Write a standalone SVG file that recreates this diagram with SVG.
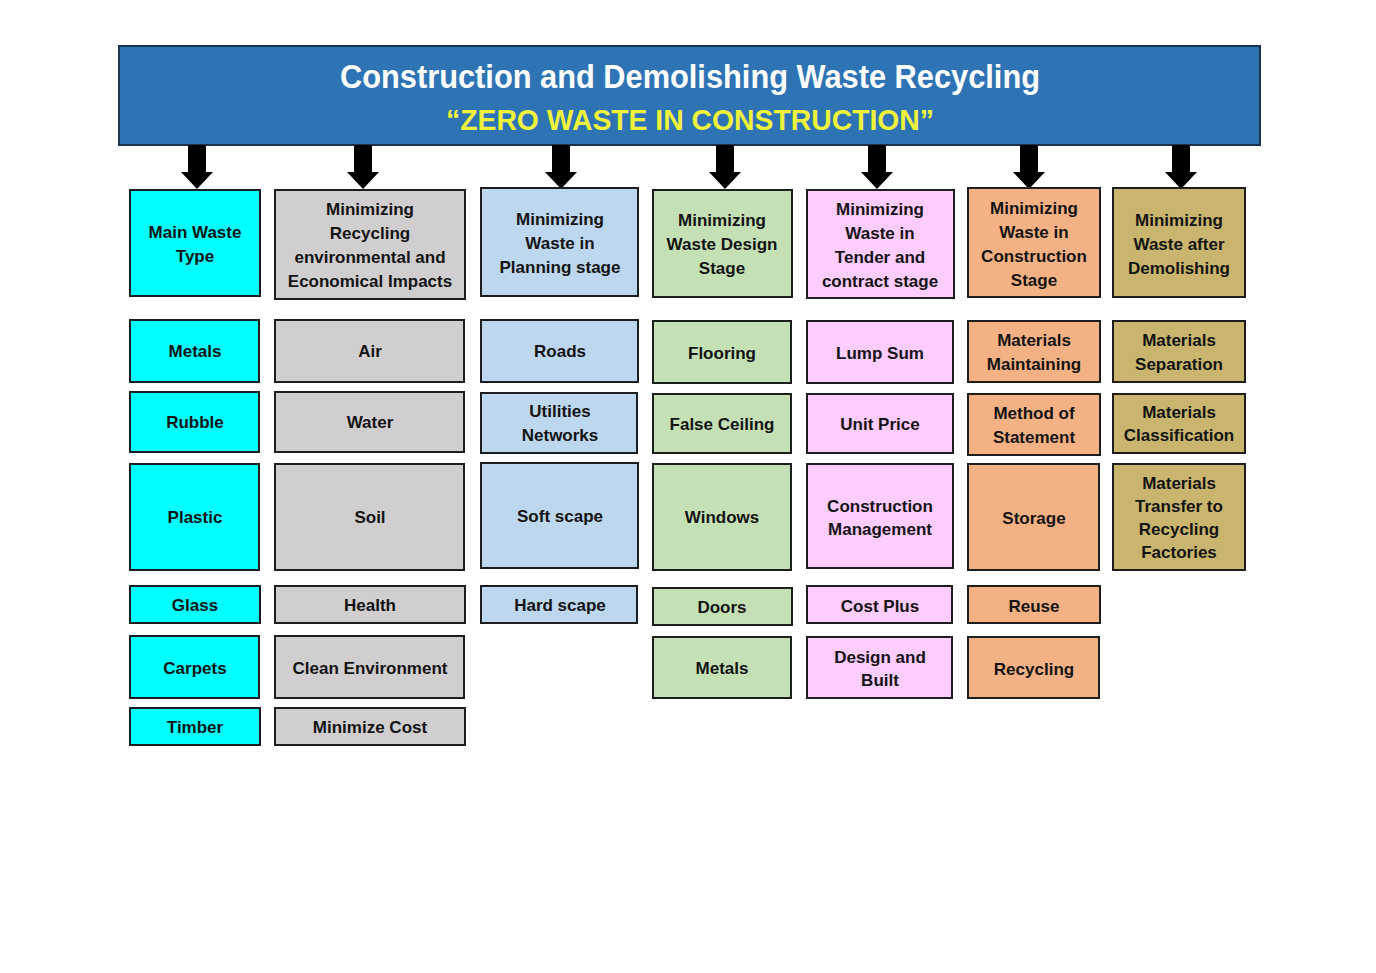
<svg xmlns="http://www.w3.org/2000/svg" width="1376" height="973" viewBox="0 0 1376 973">
<style>
.b{stroke:#1e1e1e;stroke-width:2}
.cy{fill:#00FFFF}.gr{fill:#D0CECE}.lb{fill:#BDD7EE}.gn{fill:#C5E0B4}.pk{fill:#FFCCFF}.or{fill:#F4B183}.kh{fill:#C9B56E}
text{font-family:"Liberation Sans",Arial,sans-serif;font-weight:bold;font-size:17px;fill:#141414;text-anchor:middle}
.t1{font-size:33px;fill:#ffffff}
.t2{font-size:30px;fill:#EEF23A}
.ar{fill:#000}
</style>
<rect width="1376" height="973" fill="#ffffff"/>
<g id="title">
<rect x="119" y="46" width="1141" height="99" fill="#2E74B5" stroke="#1b3350" stroke-width="2"/>
<text class="t1" x="690" y="88" textLength="700" lengthAdjust="spacingAndGlyphs">Construction and Demolishing Waste Recycling</text>
<text class="t2" x="690" y="130" textLength="488" lengthAdjust="spacingAndGlyphs">“ZERO WASTE IN CONSTRUCTION”</text>
</g>
<g id="connectors">
<polygon class="ar" points="188,145 206,145 206,172 213,172 197,189 181,172 188,172"/>
<polygon class="ar" points="354,145 372,145 372,172 379,172 363,189 347,172 354,172"/>
<polygon class="ar" points="552,145 570,145 570,172 577,172 561,189 545,172 552,172"/>
<polygon class="ar" points="716,145 734,145 734,172 741,172 725,189 709,172 716,172"/>
<polygon class="ar" points="868,145 886,145 886,172 893,172 877,189 861,172 868,172"/>
<polygon class="ar" points="1020,145 1038,145 1038,172 1045,172 1029,189 1013,172 1020,172"/>
<polygon class="ar" points="1172,145 1190,145 1190,172 1197,172 1181,189 1165,172 1172,172"/>
</g>
<!-- Column 1 -->
<g id="h1"><rect class="b cy" x="130" y="190" width="130" height="106"/><text x="195" y="238">Main Waste</text><text x="195" y="262">Type</text></g>
<g id="c1r1"><rect class="b cy" x="130" y="320" width="129" height="62"/><text x="195" y="357">Metals</text></g>
<g id="c1r2"><rect class="b cy" x="130" y="392" width="129" height="60"/><text x="195" y="428">Rubble</text></g>
<g id="c1r3"><rect class="b cy" x="130" y="464" width="129" height="106"/><text x="195" y="523">Plastic</text></g>
<g id="c1r4"><rect class="b cy" x="130" y="586" width="130" height="37"/><text x="195" y="611">Glass</text></g>
<g id="c1r5"><rect class="b cy" x="130" y="636" width="129" height="62"/><text x="195" y="674">Carpets</text></g>
<g id="c1r6"><rect class="b cy" x="130" y="708" width="130" height="37"/><text x="195" y="733">Timber</text></g>
<!-- Column 2 -->
<g id="h2"><rect class="b gr" x="275" y="190" width="190" height="109"/><text x="370" y="215">Minimizing</text><text x="370" y="239">Recycling</text><text x="370" y="263">environmental and</text><text x="370" y="287">Economical Impacts</text></g>
<g id="c2r1"><rect class="b gr" x="275" y="320" width="189" height="62"/><text x="370" y="357">Air</text></g>
<g id="c2r2"><rect class="b gr" x="275" y="392" width="189" height="60"/><text x="370" y="428">Water</text></g>
<g id="c2r3"><rect class="b gr" x="275" y="464" width="189" height="106"/><text x="370" y="523">Soil</text></g>
<g id="c2r4"><rect class="b gr" x="275" y="586" width="190" height="37"/><text x="370" y="611">Health</text></g>
<g id="c2r5"><rect class="b gr" x="275" y="636" width="189" height="62"/><text x="370" y="674">Clean Environment</text></g>
<g id="c2r6"><rect class="b gr" x="275" y="708" width="190" height="37"/><text x="370" y="733">Minimize Cost</text></g>
<!-- Column 3 -->
<g id="h3"><rect class="b lb" x="481" y="188" width="157" height="108"/><text x="560" y="225">Minimizing</text><text x="560" y="249">Waste in</text><text x="560" y="273">Planning stage</text></g>
<g id="c3r1"><rect class="b lb" x="481" y="320" width="157" height="62"/><text x="560" y="357">Roads</text></g>
<g id="c3r2"><rect class="b lb" x="481" y="393" width="156" height="60"/><text x="560" y="417">Utilities</text><text x="560" y="441">Networks</text></g>
<g id="c3r3"><rect class="b lb" x="481" y="463" width="157" height="105"/><text x="560" y="522">Soft scape</text></g>
<g id="c3r4"><rect class="b lb" x="481" y="586" width="156" height="37"/><text x="560" y="611">Hard scape</text></g>
<!-- Column 4 -->
<g id="h4"><rect class="b gn" x="653" y="190" width="139" height="107"/><text x="722" y="226">Minimizing</text><text x="722" y="250">Waste Design</text><text x="722" y="274">Stage</text></g>
<g id="c4r1"><rect class="b gn" x="653" y="321" width="138" height="62"/><text x="722" y="359">Flooring</text></g>
<g id="c4r2"><rect class="b gn" x="653" y="394" width="138" height="59"/><text x="722" y="430">False Ceiling</text></g>
<g id="c4r3"><rect class="b gn" x="653" y="464" width="138" height="106"/><text x="722" y="523">Windows</text></g>
<g id="c4r4"><rect class="b gn" x="653" y="588" width="139" height="37"/><text x="722" y="613">Doors</text></g>
<g id="c4r5"><rect class="b gn" x="653" y="637" width="138" height="61"/><text x="722" y="674">Metals</text></g>
<!-- Column 5 -->
<g id="h5"><rect class="b pk" x="807" y="190" width="147" height="108"/><text x="880" y="215">Minimizing</text><text x="880" y="239">Waste in</text><text x="880" y="263">Tender and</text><text x="880" y="287">contract stage</text></g>
<g id="c5r1"><rect class="b pk" x="807" y="321" width="146" height="62"/><text x="880" y="359">Lump Sum</text></g>
<g id="c5r2"><rect class="b pk" x="807" y="394" width="146" height="59"/><text x="880" y="430">Unit Price</text></g>
<g id="c5r3"><rect class="b pk" x="807" y="464" width="146" height="104"/><text x="880" y="512">Construction</text><text x="880" y="535">Management</text></g>
<g id="c5r4"><rect class="b pk" x="807" y="586" width="145" height="37"/><text x="880" y="612">Cost Plus</text></g>
<g id="c5r5"><rect class="b pk" x="807" y="637" width="145" height="61"/><text x="880" y="663">Design and</text><text x="880" y="686">Built</text></g>
<!-- Column 6 -->
<g id="h6"><rect class="b or" x="968" y="188" width="132" height="109"/><text x="1034" y="214">Minimizing</text><text x="1034" y="238">Waste in</text><text x="1034" y="262">Construction</text><text x="1034" y="286">Stage</text></g>
<g id="c6r1"><rect class="b or" x="968" y="321" width="132" height="61"/><text x="1034" y="346">Materials</text><text x="1034" y="370">Maintaining</text></g>
<g id="c6r2"><rect class="b or" x="968" y="394" width="132" height="61"/><text x="1034" y="419">Method of</text><text x="1034" y="443">Statement</text></g>
<g id="c6r3"><rect class="b or" x="968" y="464" width="131" height="106"/><text x="1034" y="524">Storage</text></g>
<g id="c6r4"><rect class="b or" x="968" y="586" width="132" height="37"/><text x="1034" y="612">Reuse</text></g>
<g id="c6r5"><rect class="b or" x="968" y="637" width="131" height="61"/><text x="1034" y="675">Recycling</text></g>
<!-- Column 7 -->
<g id="h7"><rect class="b kh" x="1113" y="188" width="132" height="109"/><text x="1179" y="226">Minimizing</text><text x="1179" y="250">Waste after</text><text x="1179" y="274">Demolishing</text></g>
<g id="c7r1"><rect class="b kh" x="1113" y="321" width="132" height="61"/><text x="1179" y="346">Materials</text><text x="1179" y="370">Separation</text></g>
<g id="c7r2"><rect class="b kh" x="1113" y="394" width="132" height="59"/><text x="1179" y="418">Materials</text><text x="1179" y="441">Classification</text></g>
<g id="c7r3"><rect class="b kh" x="1113" y="464" width="132" height="106"/><text x="1179" y="489">Materials</text><text x="1179" y="512">Transfer to</text><text x="1179" y="535">Recycling</text><text x="1179" y="558">Factories</text></g>
</svg>
